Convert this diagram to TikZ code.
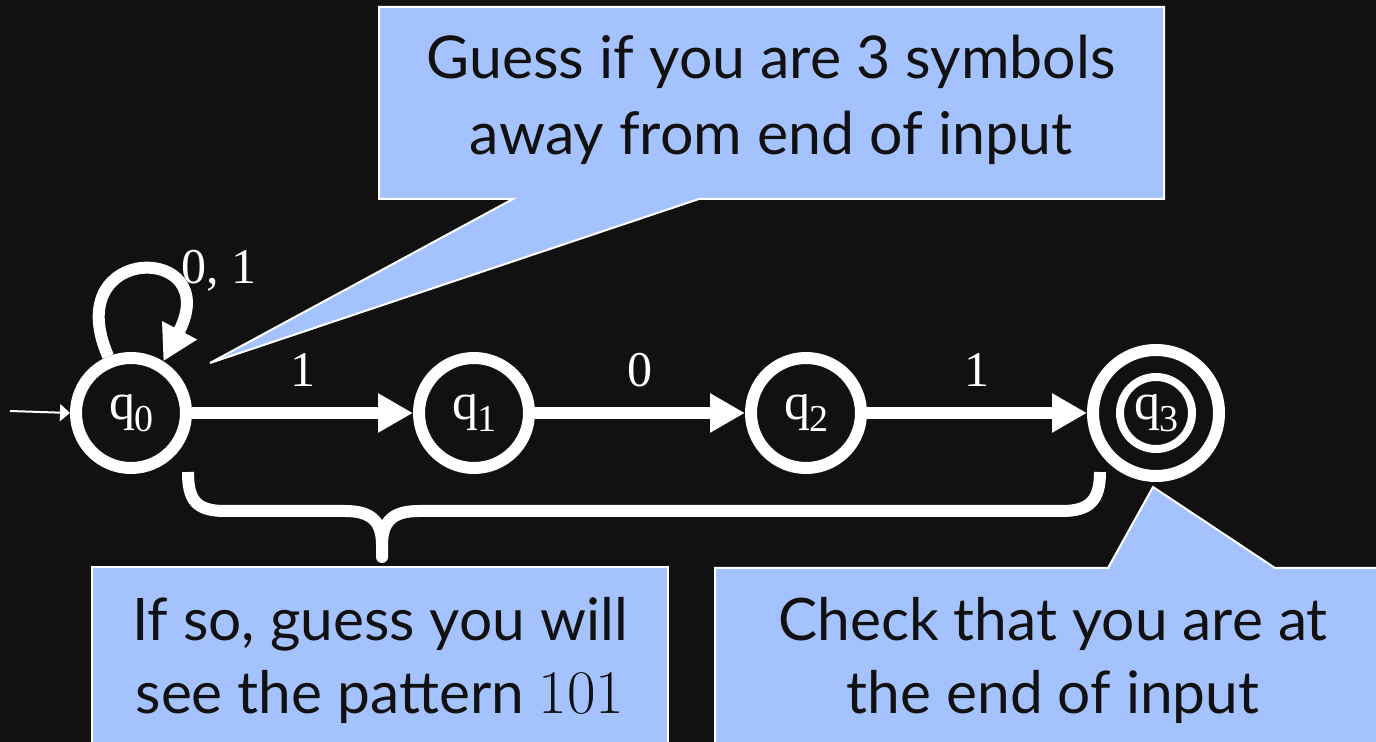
\documentclass[tikz,border=0pt]{standalone}
\usepackage{fontspec}
\newfontfamily\gill{Lato}
\newfontfamily\tms{Liberation Serif}
\usetikzlibrary{arrows.meta}
\definecolor{bg}{HTML}{111111}
\definecolor{callout}{HTML}{A4C2FE}
\newcommand\qsub[1]{q\kern-0.5pt\raisebox{-0.22em}{\fontsize{19}{19}\selectfont #1}}
\begin{document}
\begin{tikzpicture}[x=0.5pt,y=-0.5pt,
  state/.style={circle,draw=white,line width=6pt,minimum size=55pt,inner sep=0pt,text=white,font=\tms\fontsize{26}{26}\selectfont},
  trans/.style={draw=white,line width=6pt,-{Triangle[length=17.5pt,width=18.5pt]}},
  elabel/.style={text=white,font=\tms\fontsize{25}{25}\selectfont,inner sep=0pt},
  callbox/.style={fill=callout,draw=white,line width=1pt,line join=miter},
  calltext/.style={text=bg,inner sep=0pt,anchor=base,font=\gill\fontsize{29.5}{29.5}\selectfont},
  calltextb/.style={calltext,font=\gill\fontsize{29.3}{29.3}\selectfont},
  bracestyle/.style={draw=white,line width=6pt,line join=round}
  ]
\useasboundingbox (0,0) rectangle (1376,742);
\fill[bg] (0,0) rectangle (1376,742);

% callouts
\draw[callbox] (379,7) -- (1164,7) -- (1164,199) -- (699,199) -- (210,363) -- (513,199) -- (379,199) -- cycle;
\draw[callbox] (92,567) rectangle (668,760);
\draw[callbox] (715,568) -- (1108,568) -- (1153,487) -- (1275,568) -- (1390,568) -- (1390,760) -- (715,760) -- cycle;

\node[calltext] (t1) at (771,79) {Guess if you are 3 symbols};
\node[calltext] (t2) at (771,155) {away from end of input};
\node[calltextb] (l1) at (380,640) {If so, guess you will};
\node[calltextb] (l2) at (380,713) {see the pattern {\rmfamily\fontsize{31}{31}\selectfont 101}};
\node[calltextb] (r1) at (1053,640) {Check that you are at};
\node[calltextb] (r2) at (1053,713) {the end of input};

% states
\node[state] (q0) at (131,413) {\qsub{0}};
\node[state] (q1) at (474,413) {\qsub{1}};
\node[state] (q2) at (806,413) {\qsub{2}};
\node[state,minimum size=63pt] (q3) at (1156,413) {\qsub{3}};
\draw[white,line width=4pt] (q3.center) circle (18pt);

% initial arrow
\coordinate (start) at (10,411);
\draw[white,line width=1pt,-{Triangle[length=5pt,width=8.5pt]}] (start) -- (q0.west);

% transitions
\draw[trans] (q0) -- node[elabel,yshift=21.5pt] (lab1) {1} (q1);
\draw[trans] (q1) -- node[elabel,yshift=21.5pt] (lab2) {0} (q2);
\draw[trans] (q2) -- node[elabel,yshift=21.5pt] (lab3) {1} (q3);
\draw[trans] (q0.112) .. controls +(-50,-115) and +(62,-118) .. (q0.58);
\node[elabel] (lab01) at (219,271) {0, 1};

% brace
\draw[bracestyle] (188,472) .. controls (188,500) and (196,511) .. (225,511) -- (345,511)
  .. controls (372,511) and (382,522) .. (382,545) -- (382,557) -- (382,545)
  .. controls (382,522) and (392,511) .. (419,511) -- (1062,511)
  .. controls (1090,511) and (1100,500) .. (1100,472);
\end{tikzpicture}
\end{document}
